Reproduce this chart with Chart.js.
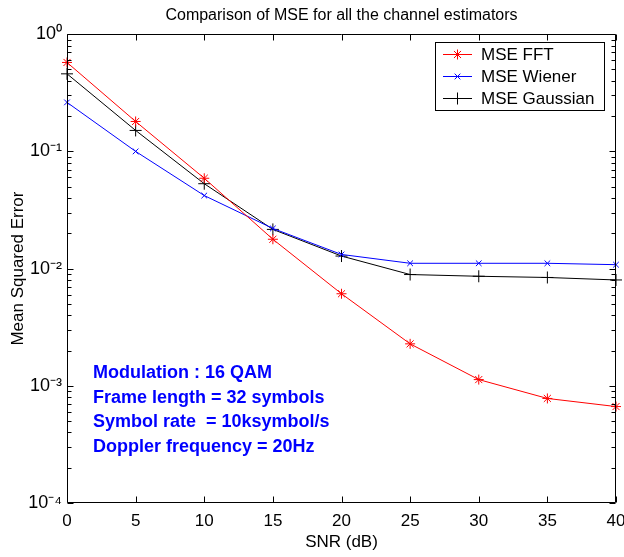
<!DOCTYPE html>
<html>
<head>
<meta charset="utf-8">
<script src="https://cdn.jsdelivr.net/npm/chart.js@4/dist/chart.umd.min.js"></script>
<style>
  html, body { margin: 0; padding: 0; background: #ffffff; }
  #wrap { width: 624px; height: 557px; }
</style>
</head>
<body>
<div id="wrap"><canvas id="c" width="624" height="557"></canvas></div>
<script>
// ---- data ----
const snr = [0, 5, 10, 15, 20, 25, 30, 35, 40];
const mseFFT = [0.574, 0.18, 0.059, 0.0178, 0.0061, 0.00228, 0.00113, 0.00078, 0.000665];
const mseWiener = [0.262, 0.100, 0.042, 0.0220, 0.0132, 0.0111, 0.0111, 0.0111, 0.0108];
const mseGaussian = [0.459, 0.151, 0.053, 0.0216, 0.0128, 0.0089, 0.0086, 0.0084, 0.0080];
const xTicks = [0, 5, 10, 15, 20, 25, 30, 35, 40];
const yTicks = [1e-4, 1e-3, 1e-2, 1e-1, 1];
const yTickLabels = ['10\u207B\u2074', '10\u207B\u00B3', '10\u207B\u00B2', '10\u207B\u00B9', '10\u2070'];
const seriesLabels = ['MSE FFT', 'MSE Wiener', 'MSE Gaussian'];
const titleText = 'Comparison of MSE for all the channel estimators';
const xTitle = 'SNR (dB)';
const yTitle = 'Mean Squared Error';
const noteLines = ['Modulation : 16 QAM', 'Frame length = 32 symbols', 'Symbol rate  = 10ksymbol/s', 'Doppler frequency = 20Hz'];

const FONT = '"Liberation Sans", Arial, Helvetica, sans-serif';
const NARROW = '"Liberation Sans Narrow", "Arial Narrow", "Liberation Sans", Arial, sans-serif';
Chart.defaults.font.family = FONT;
Chart.defaults.color = '#000000';

function toPoints(ys) { return snr.map((x, i) => ({ x: x, y: ys[i] })); }

const boxTicksPlugin = {
  id: 'boxTicks',
  afterDraw(chart) {
    const ctx = chart.ctx;
    const { left, right, top, bottom } = chart.chartArea;
    const xs = chart.scales.x, ys = chart.scales.y;
    ctx.save();
    ctx.strokeStyle = '#000000';
    ctx.lineWidth = 1;
    const L = Math.round(left) + 0.5, R = Math.round(right) - 0.5;
    const T = Math.round(top) + 0.5, B = Math.round(bottom) - 0.5;
    ctx.beginPath();
    ctx.rect(L, T, R - L, B - T);
    xTicks.forEach(v => {
      const px = Math.round(xs.getPixelForValue(v)) + 0.5;
      ctx.moveTo(px, B); ctx.lineTo(px, B - 6);
      ctx.moveTo(px, T); ctx.lineTo(px, T + 6);
    });
    for (let e = -4; e <= 0; e++) {
      for (let k = 1; k <= 9; k++) {
        if (e === 0 && k > 1) break;
        const v = k * Math.pow(10, e);
        const py = Math.round(ys.getPixelForValue(v)) + 0.5;
        const len = k === 1 ? 6 : 4;
        ctx.moveTo(L, py); ctx.lineTo(L + len, py);
        ctx.moveTo(R, py); ctx.lineTo(R - len, py);
      }
    }
    ctx.stroke();

    // annotation text
    ctx.fillStyle = '#0000ff';
    ctx.font = 'bold 18px ' + FONT;
    ctx.textAlign = 'left';
    ctx.textBaseline = 'middle';
    noteLines.forEach((t, i) => ctx.fillText(t, 93, 373 + i * 24.7));

    // legend
    const lx = 435.5, ly = 42.5, lw = 169, lh = 68;
    ctx.fillStyle = '#ffffff';
    ctx.fillRect(lx, ly, lw, lh);
    ctx.strokeStyle = '#000000';
    ctx.strokeRect(lx, ly, lw, lh);
    ctx.font = '17px ' + NARROW;
    chart.data.datasets.forEach((ds, i) => {
      const y = 54 + i * 22;
      ctx.strokeStyle = ds.borderColor;
      ctx.lineWidth = 1;
      ctx.beginPath();
      ctx.moveTo(443, y + 0.5); ctx.lineTo(472, y + 0.5);
      ctx.stroke();
      ctx.fillStyle = ds.borderColor;
      Chart.helpers.drawPoint(ctx, { pointStyle: ds.pointStyle, radius: ds.pointRadius, rotation: 0, borderWidth: 1 }, 457.5, y + 0.5);
      ctx.fillStyle = '#000000';
      ctx.fillText(ds.label, 481, y + 1);
    });
    ctx.restore();
  }
};

new Chart(document.getElementById('c'), {
  type: 'line',
  data: {
    datasets: [
      { label: seriesLabels[0], data: toPoints(mseFFT), borderColor: '#ff0000', backgroundColor: '#ff0000',
        pointStyle: 'star', pointRadius: 5, pointBorderWidth: 1, borderWidth: 1, tension: 0, clip: false },
      { label: seriesLabels[1], data: toPoints(mseWiener), borderColor: '#0000ff', backgroundColor: '#0000ff',
        pointStyle: 'crossRot', pointRadius: 4, pointBorderWidth: 1, borderWidth: 1, tension: 0, clip: false },
      { label: seriesLabels[2], data: toPoints(mseGaussian), borderColor: '#000000', backgroundColor: '#000000',
        pointStyle: 'cross', pointRadius: 6, pointBorderWidth: 1, borderWidth: 1, tension: 0, clip: false }
    ]
  },
  options: {
    responsive: false,
    animation: false,
    devicePixelRatio: 1,
    layout: { padding: { left: 0, right: 0, top: 0, bottom: 0 } },
    plugins: {
      legend: { display: false },
      tooltip: { enabled: false },
      title: { display: true, fullSize: false, text: titleText, color: '#000000',
        font: { size: 16, weight: 'normal', family: NARROW }, padding: { top: 6, bottom: 9 } }
    },
    scales: {
      x: {
        type: 'linear', position: 'bottom', min: 0, max: 40,
        afterBuildTicks: s => { s.ticks = xTicks.map(v => ({ value: v })); },
        ticks: { font: { size: 17, family: NARROW }, color: '#000000', padding: 8, autoSkip: false, maxRotation: 0,
          callback: v => String(v) },
        grid: { display: false, drawTicks: false },
        border: { display: false },
        title: { display: true, text: xTitle, color: '#000000', font: { size: 17, family: NARROW }, padding: { top: 0, bottom: 4 } },
        afterFit: s => { s.height = 54; s.paddingLeft = 0; s.paddingRight = 8; }
      },
      y: {
        type: 'logarithmic', position: 'left', min: 1e-4, max: 1,
        afterBuildTicks: s => { s.ticks = yTicks.map(v => ({ value: v, major: true })); },
        ticks: { font: { size: 18, family: NARROW }, color: '#000000', padding: 5, autoSkip: false,
          callback: (v) => { const i = yTicks.findIndex(t => Math.abs(t - v) / t < 1e-6); return i >= 0 ? yTickLabels[i] : ''; } },
        grid: { display: false, drawTicks: false },
        border: { display: false },
        title: { display: true, text: yTitle, color: '#000000', font: { size: 17, family: NARROW }, padding: { top: 8, bottom: 0 } },
        afterFit: s => { s.width = 67; s.paddingTop = 0; s.paddingBottom = 0; }
      }
    }
  },
  plugins: [boxTicksPlugin]
});
</script>
</body>
</html>
